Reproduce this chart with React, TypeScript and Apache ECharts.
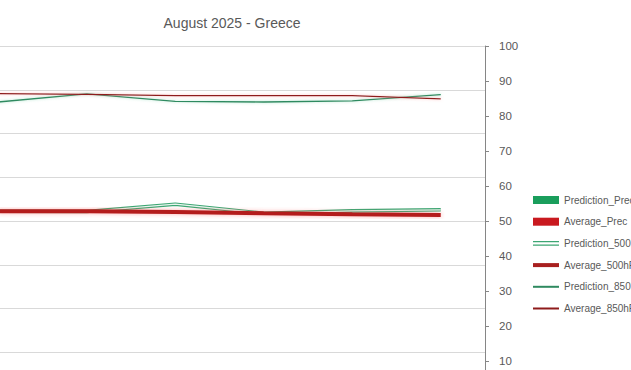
import React, { useEffect, useRef } from "react";
import * as echarts from "echarts";

const categories = ["1", "2", "3", "4", "5", "6"];
const predictionPrec = [0, 0, 0, 0, 0, 0];
const averagePrec = [0, 0, 0, 0, 0, 0];
const prediction500 = [52.8, 52.7, 54.8, 52.2, 52.9, 53.2];
const average500 = [52.8, 52.8, 52.6, 52.2, 51.9, 51.7];
const prediction850 = [84.0, 86.3, 84.2, 84.0, 84.3, 86.1];
const average850 = [86.4, 86.2, 85.8, 85.8, 85.8, 84.9];
const rightTicks = { min: 0, max: 100, interval: 10 };
const leftTicks = { min: 0, max: 8, interval: 1 };

const FONT = '"Liberation Sans", Arial, sans-serif';
const OFFSET_X = 200;

export default function App() {
  const ref = useRef<HTMLDivElement>(null);
  useEffect(() => {
    if (!ref.current) return;
    const chart = echarts.init(ref.current, undefined, { renderer: "svg" });
    const hideDot = { opacity: 0 };
    chart.setOption({
      animation: false,
      backgroundColor: "#ffffff",
      title: {
        text: "August 2025 - Greece",
        left: 227 + OFFSET_X,
        top: 11,
        textAlign: "center",
        textStyle: { fontFamily: FONT, fontSize: 14, fontWeight: "normal", color: "#595959" },
      },
      legend: {
        orient: "vertical",
        left: 526 + OFFSET_X,
        top: 188,
        itemWidth: 26,
        itemHeight: 8,
        itemGap: 7.7,
        textStyle: { fontFamily: FONT, fontSize: 10, color: "#595959", lineHeight: 14 },
        data: [
          { name: "Prediction_Prec", icon: "rect" },
          { name: "Average_Prec", icon: "rect" },
          {
            name: "Prediction_500hPa",
            icon: "path://M0,0L26,0L26,1.3L0,1.3Z M0,3.4L26,3.4L26,4.7L0,4.7Z",
          },
          {
            name: "Average_500hPa",
            itemStyle: hideDot,
            lineStyle: { width: 4, color: "#A8201F" },
          },
          { name: "Prediction_850hPa", itemStyle: hideDot },
          { name: "Average_850hPa", itemStyle: hideDot },
        ],
      },
      grid: { left: OFFSET_X - 46, right: 1000 - (485 + OFFSET_X), top: 46, bottom: 450 - 396, containLabel: false },
      xAxis: {
        type: "category",
        data: categories,
        boundaryGap: true,
        axisLabel: { show: false },
        axisTick: { show: false },
        axisLine: { lineStyle: { color: "#868686" } },
      },
      yAxis: [
        {
          type: "value",
          position: "left",
          min: leftTicks.min,
          max: leftTicks.max,
          interval: leftTicks.interval,
          axisLabel: { show: false },
          axisLine: { show: false },
          axisTick: { show: false },
          splitLine: { show: true, lineStyle: { color: "#D9D9D9", width: 1 } },
        },
        {
          type: "value",
          position: "right",
          min: rightTicks.min,
          max: rightTicks.max,
          interval: rightTicks.interval,
          axisLine: { show: true, lineStyle: { color: "#868686", width: 1 } },
          axisTick: { show: true, length: 4, lineStyle: { color: "#868686" } },
          axisLabel: {
            showMinLabel: false,
            margin: 14,
            fontFamily: FONT,
            fontSize: 11.5,
            color: "#595959",
          },
          splitLine: { show: false },
        },
      ],
      series: [
        {
          name: "Prediction_Prec",
          type: "bar",
          yAxisIndex: 0,
          data: predictionPrec,
          itemStyle: { color: "#1A9E5C" },
        },
        {
          name: "Average_Prec",
          type: "bar",
          yAxisIndex: 0,
          data: averagePrec,
          itemStyle: { color: "#C9191F" },
        },
        {
          name: "Prediction_500hPa",
          type: "line",
          yAxisIndex: 1,
          data: prediction500,
          symbol: "none",
          itemStyle: { color: "#3DA673" },
          lineStyle: { color: "#3DA673", width: 3.6 },
        },
        {
          name: "_p500inner",
          type: "line",
          yAxisIndex: 1,
          data: prediction500,
          symbol: "none",
          silent: true,
          itemStyle: { color: "#E8F5EE" },
          lineStyle: { color: "#E8F5EE", width: 1.3 },
        },
        {
          name: "Average_500hPa",
          type: "line",
          yAxisIndex: 1,
          data: average500,
          symbol: "none",
          itemStyle: { color: "#A8201F" },
          lineStyle: {
            color: "#B41E1E",
            width: 4,
            shadowColor: "rgba(255,70,70,0.45)",
            shadowBlur: 4,
          },
        },
        {
          name: "Prediction_850hPa",
          type: "line",
          yAxisIndex: 1,
          data: prediction850,
          symbol: "none",
          itemStyle: { color: "#2F8A60" },
          lineStyle: {
            color: "#2F8A60",
            width: 1.3,
            shadowColor: "rgba(120,210,170,0.6)",
            shadowBlur: 3,
          },
        },
        {
          name: "Average_850hPa",
          type: "line",
          yAxisIndex: 1,
          data: average850,
          symbol: "none",
          itemStyle: { color: "#8E1B1B" },
          lineStyle: {
            color: "#8E1B1B",
            width: 1.3,
            shadowColor: "rgba(255,150,150,0.6)",
            shadowBlur: 3,
          },
        },
      ],
    });
    return () => chart.dispose();
  }, []);
  return (
    <div
      style={{
        position: "fixed",
        left: 0,
        top: 0,
        width: 631,
        height: 370,
        overflow: "hidden",
        background: "#fff",
      }}
    >
      <div
        ref={ref}
        style={{ position: "absolute", left: -OFFSET_X, top: 0, width: 1000, height: 450 }}
      />
    </div>
  );
}
